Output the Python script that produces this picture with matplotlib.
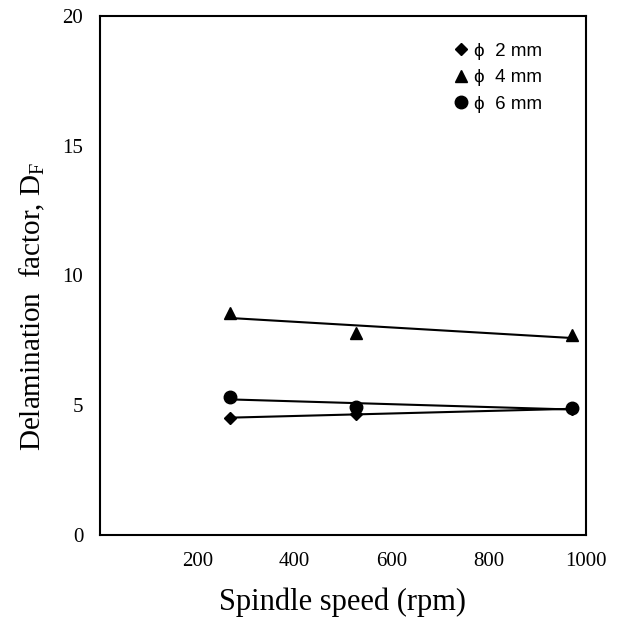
import numpy as np
import matplotlib
matplotlib.use("Agg")
import matplotlib.pyplot as plt

# data
speed = [268, 526, 971]
df_2mm = [4.50, 4.68, 4.85]
df_4mm = [8.55, 7.78, 7.70]
df_6mm = [5.32, 4.93, 4.89]

labels = ["\u03d5  2 mm", "\u03d5  4 mm", "\u03d5  6 mm"]
markers = ["D", "^", "o"]
sizes = [6, 8.5, 9]

plt.rcParams["mathtext.fontset"] = "custom"
plt.rcParams["mathtext.rm"] = "Liberation Serif"

fig = plt.figure(figsize=(6.19, 6.23), dpi=100)
ax = fig.add_axes([0.1616, 0.1413, 0.785, 0.833])

x = np.array(speed)
xs = np.array([x.min(), x.max()])
for y, m, ms, lab in zip([df_2mm, df_4mm, df_6mm], markers, sizes, labels):
    ax.plot(x, y, linestyle="none", marker=m, ms=ms, color="black", label=lab)
    # linear trend line
    k, b = np.polyfit(x, y, 1)
    ax.plot(xs, k * xs + b, color="black", lw=1.5)

ax.set_xlim(0, 1000)
ax.set_ylim(0, 20)
ax.set_xticks([200, 400, 600, 800, 1000])
ax.set_yticks([0, 5, 10, 15, 20])
ax.tick_params(length=0, labelsize=15, pad=12)
for t in ax.get_xticklabels() + ax.get_yticklabels():
    t.set_fontfamily("Liberation Serif")
for s in ax.spines.values():
    s.set_linewidth(1.5)

ax.set_xlabel("Spindle speed (rpm)", fontsize=22, family="Liberation Serif", labelpad=12)
ax.set_ylabel("Delamination  factor, D$_{\\mathrm{F}}$", fontsize=21,
              family="Liberation Serif")
ax.yaxis.set_label_coords(-0.11, 0.44)

handles, labs = ax.get_legend_handles_labels()
handles = [h for h in handles if h.get_marker() != "None"]
ax.legend(handles, labels, loc="upper right", frameon=False,
          prop={"family": ["Liberation Sans", "DejaVu Sans"], "size": 13.5},
          handlelength=0.6, handletextpad=0.4, labelspacing=0.5,
          borderaxespad=0, bbox_to_anchor=(0.925, 0.963), markerscale=1.0)

fig.savefig("out.png", dpi=100)
